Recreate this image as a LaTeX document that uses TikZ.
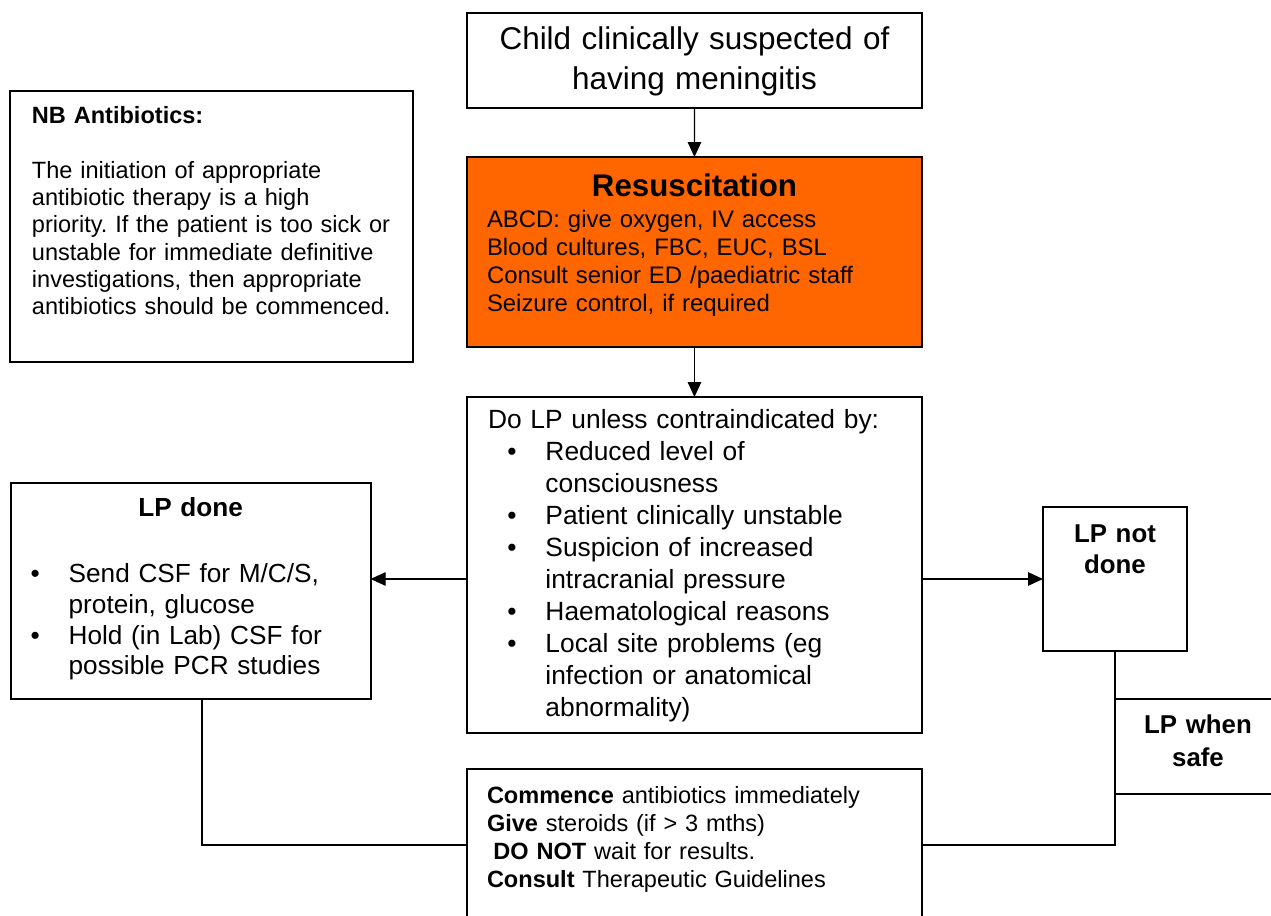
\documentclass[tikz,border=0pt]{standalone}
\usepackage{fontspec}
\setmainfont{Liberation Sans}
\usetikzlibrary{arrows.meta}

\definecolor{resusorange}{RGB}{255,102,0}
\newcommand{\bul}{\makebox[0.76cm][l]{\textbullet}}
\frenchspacing

\begin{document}
\begin{tikzpicture}[x=0.02cm, y=-0.02cm,
  box/.style={draw, line width=1.1pt, anchor=north west, outer sep=0pt, inner ysep=0pt, align=left},
  link/.style={line width=0.7pt},
  >={Triangle[length=0.3cm, width=0.27cm]}]
  \useasboundingbox (0, 0) rectangle (1271, 916);
  \clip (0, 0) rectangle (1271, 916);

  \node [box, align=center, inner xsep=0pt, text width=9.1cm, text height=0.74cm, text depth=1.16cm,
    font=\fontsize{17.9}{22.4}\selectfont] (start) at (467, 13)
    {Child clinically suspected of\\having meningitis};
  \node [box, fill=resusorange, inner xsep=0.4cm, text width=8.3cm, text height=0.8cm, text depth=3cm,
    font=\fontsize{13.6}{16.1}\selectfont] (resus) at (467, 157)
    {\makebox[8.3cm]{\fontsize{17.8}{20}\selectfont\bfseries Resuscitation}\\[1pt]
     ABCD: give oxygen, IV access\\
     Blood cultures, FBC, EUC, BSL\\
     Consult senior ED /paediatric staff\\
     Seizure control, if required};
  \node [box, inner xsep=0.44cm, text width=7.18cm, text height=0.66cm, text depth=4.76cm,
    font=\fontsize{13.4}{15.5}\selectfont] (nb) at (10, 91)
    {\textbf{NB Antibiotics:}\\[15.5pt]
     \mbox{The initiation of appropriate}\\
     \mbox{antibiotic therapy is a high}\\
     \mbox{priority. If the patient is too sick or}\\
     \mbox{unstable for immediate definitive}\\
     \mbox{investigations, then appropriate}\\
     \mbox{antibiotics should be commenced.}};
  \node [box, inner xsep=0.42cm, text width=8.26cm, text height=0.64cm, text depth=6.08cm,
    font=\fontsize{15}{18.2}\selectfont] (lp) at (467, 397)
    {Do LP unless contraindicated by:\\
     \hspace*{0.39cm}\bul Reduced level of\\
     \hspace*{1.15cm}consciousness\\
     \hspace*{0.39cm}\bul Patient clinically unstable\\
     \hspace*{0.39cm}\bul Suspicion of increased\\
     \hspace*{1.15cm}intracranial pressure\\
     \hspace*{0.39cm}\bul Haematological reasons\\
     \hspace*{0.39cm}\bul Local site problems (eg\\
     \hspace*{1.15cm}infection or anatomical\\
     \hspace*{1.15cm}abnormality)};
  \node [box, inner xsep=0.4cm, text width=6.4cm, text height=0.68cm, text depth=3.64cm,
    font=\fontsize{14.9}{17.5}\selectfont] (done) at (10.7, 482.7)
    {\makebox[6.4cm]{\bfseries LP done}\\[20pt]
     \bul Send CSF for M/C/S,\\
     \hspace*{0.76cm}protein, glucose\\
     \bul Hold (in Lab) CSF for\\
     \hspace*{0.76cm}possible PCR studies};
  \node [box, align=center, inner xsep=0pt, text width=2.88cm, text height=0.7cm, text depth=2.18cm,
    font=\fontsize{14.7}{18.2}\selectfont\bfseries] (notdone) at (1043, 507) {LP not\\done};
  \node [box, align=center, inner xsep=0pt, text width=3.32cm, text height=0.68cm, text depth=1.22cm,
    font=\fontsize{14.7}{18.8}\selectfont\bfseries] (safe) at (1115, 699) {LP when\\safe};
  \node [box, inner xsep=0.4cm, text width=8.3cm, text height=0.68cm, text depth=2.36cm,
    font=\fontsize{13.4}{16.1}\selectfont] (act) at (467, 769)
    {\textbf{Commence} antibiotics immediately\\
     \textbf{Give} steroids (if > 3 mths)\\
     \hspace*{0.13cm}\textbf{DO NOT} wait for results.\\
     \textbf{Consult} Therapeutic Guidelines};

  \draw [link, ->] (start) -- (resus);
  \draw [link, ->] (resus) -- (lp);
  \draw [link, ->] (lp.west |- notdone.west) -- (done.east |- notdone.west);
  \draw [link, ->] (lp.east |- notdone.west) -- (notdone);
  \draw [link] (notdone) |- (act);
  \draw [link] ([xshift=0.226cm]done.south) |- (act);
\end{tikzpicture}
\end{document}
